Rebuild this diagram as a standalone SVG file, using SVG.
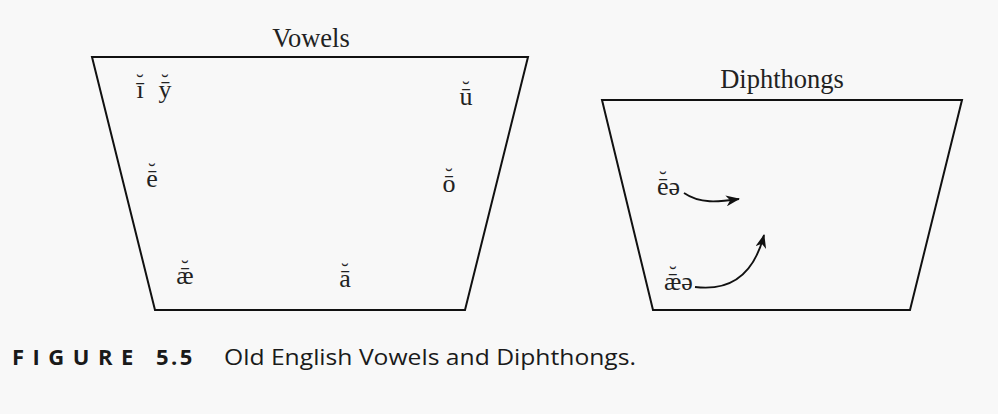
<svg xmlns="http://www.w3.org/2000/svg" width="998" height="414" viewBox="0 0 998 414">
<style>
.frame{fill:none;stroke:#111;stroke-width:2;stroke-linejoin:miter}
.title{font-family:"Liberation Serif","Times New Roman",serif;font-size:26.5px;fill:#222;text-anchor:middle}
.v{font-family:"Liberation Serif","Times New Roman",serif;font-size:26px;fill:#222;text-anchor:middle}
.d{font-family:"Liberation Serif","Times New Roman",serif;font-size:26px;fill:#222}
.br{font-family:"Liberation Serif","Times New Roman",serif;font-size:22px;fill:#222;text-anchor:middle}
.cap{font-family:"Open Sans","Liberation Sans",Arial,sans-serif;font-size:22px;fill:#1a1a1a}
.capb{font-family:"Open Sans","Liberation Sans",Arial,sans-serif;font-size:22px;font-weight:bold;fill:#1a1a1a;letter-spacing:8.5px}
.conn{fill:none;stroke:#111;stroke-width:1.8}
</style>
<defs>
<marker id="ah" viewBox="0 0 14 11" refX="13" refY="5.5" markerWidth="14" markerHeight="11" markerUnits="userSpaceOnUse" orient="auto">
<path d="M0,0 L14,5.5 L0,11 L4,5.5 Z" fill="#111"/>
</marker>
</defs>
<rect width="998" height="414" fill="#f8f8f8"/>
<g id="vowels">
<polygon class="frame" points="92,57 528,57 465,310 155,310"/>
<text class="title" x="311" y="47">Vowels</text>
<text class="v" x="140" y="98">ī</text><text class="br" x="140" y="89">˘</text>
<text class="v" x="165" y="98">ȳ</text><text class="br" x="165" y="89">˘</text>
<text class="v" x="466" y="105">ū</text><text class="br" x="466" y="96">˘</text>
<text class="v" x="152" y="187">ē</text><text class="br" x="152" y="178">˘</text>
<text class="v" x="449" y="192">ō</text><text class="br" x="449" y="183">˘</text>
<text class="v" x="185" y="284">ǣ</text><text class="br" x="185" y="275">˘</text>
<text class="v" x="345" y="287">ā</text><text class="br" x="345" y="278">˘</text>
</g>
<g id="diphthongs">
<polygon class="frame" points="602,100 962,100 910,310 653,310"/>
<text class="title" x="782" y="88">Diphthongs</text>
<text class="d" x="657" y="195">ēə</text><text class="br" x="663" y="186">˘</text>
<text class="d" x="664" y="290">ǣə</text><text class="br" x="673" y="281">˘</text>
</g>
<g id="connectors">
<path class="conn" d="M684,193 C700,204 718,202 739,199" marker-end="url(#ah)"/>
<path class="conn" d="M695,287 C735,292 755,270 764,235" marker-end="url(#ah)"/>
</g>
<g id="caption">
<text class="capb" x="12" y="365">FIGURE</text>
<text class="capb" x="156" y="365" style="letter-spacing:2.5px">5.5</text>
<text class="cap" x="224" y="365" textLength="412" lengthAdjust="spacingAndGlyphs">Old English Vowels and Diphthongs.</text>
</g>
</svg>
